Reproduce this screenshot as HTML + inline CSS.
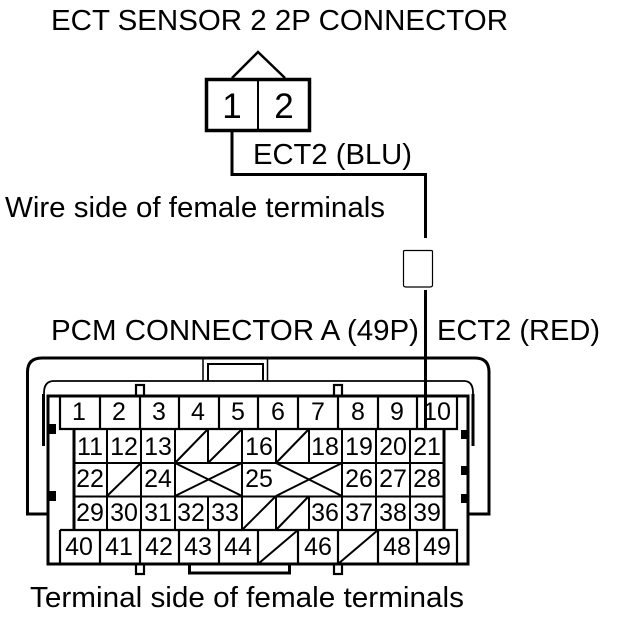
<!DOCTYPE html>
<html><head><meta charset="utf-8"><style>
html,body{margin:0;padding:0;background:#fff}
svg{display:block}
text{font-family:"Liberation Sans",sans-serif;fill:#000}
.n{font-size:25px;text-anchor:middle}
.l{font-size:29px}
</style></head><body>
<svg width="624" height="618" viewBox="0 0 624 618" xmlns="http://www.w3.org/2000/svg">
<g fill="none" stroke="#000">
<!-- top connector -->
<path d="M232 78L258 52L285 78" stroke-width="2.5"/>
<rect x="206.5" y="79.5" width="103" height="51" stroke-width="3.5"/>
<path d="M258 78V131" stroke-width="2"/>
<path d="M232 131V174.5H425.5V238" stroke-width="3"/>
<!-- splice -->
<path d="M403.500 251.500Q403.500 250.500 405 250.500H431Q432.500 250.500 432.500 251.500V285Q432.500 287 430 287H406Q403.500 287 403.500 285Z" stroke-width="1.2"/>
<!-- outer shell -->
<path d="M47 514H27.500V372Q27.500 358 42 358H475Q489 358 489 372V514H469" stroke-width="3"/>
<path d="M44 396V393Q44 381 54 381H464Q473 381 473 393V396" stroke-width="1.8"/>
<path d="M43.500 446V394" stroke-width="3"/>
<path d="M473 446V394" stroke-width="3"/>
<path d="M203 381V358M267.500 381V358" stroke-width="1.5"/>
<path d="M208 381V364H263V381" stroke-width="2"/>
</g>
<rect x="47" y="396" width="422" height="168" fill="#fff"/>
<g fill="none" stroke="#000">
<rect x="136" y="385" width="8" height="11" stroke-width="2.2" fill="#fff"/>
<rect x="334" y="385" width="8" height="11" stroke-width="2.2" fill="#fff"/>
<rect x="136" y="564" width="8" height="10" stroke-width="2.2" fill="#fff"/>
<rect x="334" y="564" width="8" height="10" stroke-width="2.2" fill="#fff"/>
<path d="M189.500 564V573H289.500V564" stroke-width="3"/>
<rect x="48" y="396" width="420" height="168" stroke-width="3"/>
<!-- rows top and bottom -->
<path d="M60 396V429H457V396M60 530H457V564M60 530V564" stroke-width="2.2"/>
<path d="M100 396V429M140 396V429M179 396V429M219 396V429M258 396V429M298 396V429M338 396V429M378 396V429M417 396V429" stroke-width="2.2"/>
<path d="M100 530V564M140 530V564M179 530V564M219 530V564M258 530V564M298 530V564M338 530V564M378 530V564M417 530V564" stroke-width="2.2"/>
<!-- middle grid -->
<path d="M74 429V530M444 429V530" stroke-width="3"/>
<path d="M74 463H444M74 496.500H444" stroke-width="2"/>
<path d="M107 429V530M141 429V530M175 429V530M242 429V530M342 429V530M376 429V530M410 429V530M208 429V463M208 496V530M276 429V463M276 496V530M309 429V463M309 496V530" stroke-width="2"/>
<!-- diagonals -->
<path d="M175 463L208 429M208 463L242 429M276 463L309 429M107 496L141 463M242 530L276 496M276 530L309 496M258 564L298 530M338 564L378 530" stroke-width="2"/>
<path d="M175 463L242 496M175 496L242 463M276 463L342 496M276 496L342 463" stroke-width="2"/>
<!-- wire over -->
<path d="M425.500 290V429" stroke-width="3"/>
</g>
<g fill="#000">
<rect x="47" y="424" width="9" height="10"/>
<rect x="47" y="491" width="9" height="10"/>
<rect x="461" y="430" width="8" height="9"/>
<rect x="461" y="466" width="8" height="9"/>
<rect x="461" y="494" width="8" height="9"/>
</g>
<!-- labels -->
<text class="l" x="51" y="30" textLength="457" lengthAdjust="spacingAndGlyphs">ECT SENSOR 2 2P CONNECTOR</text>
<text x="232" y="118" font-size="35" text-anchor="middle">1</text>
<text x="284" y="118" font-size="35" text-anchor="middle">2</text>
<text class="l" x="253" y="164" textLength="159" lengthAdjust="spacingAndGlyphs">ECT2 (BLU)</text>
<text class="l" x="5" y="217" textLength="380" lengthAdjust="spacingAndGlyphs">Wire side of female terminals</text>
<text class="l" x="51" y="340" textLength="368" lengthAdjust="spacingAndGlyphs">PCM CONNECTOR A (49P)</text>
<text class="l" x="437" y="340" textLength="163" lengthAdjust="spacingAndGlyphs">ECT2 (RED)</text>
<text class="l" x="30" y="607" textLength="434" lengthAdjust="spacingAndGlyphs">Terminal side of female terminals</text>
<g class="nums">
<text class="n" x="79" y="420">1</text><text class="n" x="119" y="420">2</text><text class="n" x="159" y="420">3</text><text class="n" x="198" y="420">4</text><text class="n" x="238" y="420">5</text><text class="n" x="278" y="420">6</text><text class="n" x="318" y="420">7</text><text class="n" x="358" y="420">8</text><text class="n" x="397" y="420">9</text><text class="n" x="437" y="420" textLength="28" lengthAdjust="spacingAndGlyphs">10</text>
<text class="n" x="90" y="455">11</text><text class="n" x="124" y="455">12</text><text class="n" x="158" y="455">13</text><text class="n" x="259" y="455">16</text><text class="n" x="325" y="455">18</text><text class="n" x="359" y="455">19</text><text class="n" x="393" y="455">20</text><text class="n" x="427" y="455">21</text>
<text class="n" x="90" y="487">22</text><text class="n" x="158" y="487">24</text><text class="n" x="259" y="487">25</text><text class="n" x="359" y="487">26</text><text class="n" x="393" y="487">27</text><text class="n" x="427" y="487">28</text>
<text class="n" x="90" y="521">29</text><text class="n" x="124" y="521">30</text><text class="n" x="158" y="521">31</text><text class="n" x="191" y="521">32</text><text class="n" x="225" y="521">33</text><text class="n" x="325" y="521">36</text><text class="n" x="359" y="521">37</text><text class="n" x="393" y="521">38</text><text class="n" x="427" y="521">39</text>
<text class="n" x="79" y="555">40</text><text class="n" x="119" y="555">41</text><text class="n" x="159" y="555">42</text><text class="n" x="198" y="555">43</text><text class="n" x="238" y="555">44</text><text class="n" x="318" y="555">46</text><text class="n" x="397" y="555">48</text><text class="n" x="437" y="555">49</text>
</g>
</svg>
</body></html>
